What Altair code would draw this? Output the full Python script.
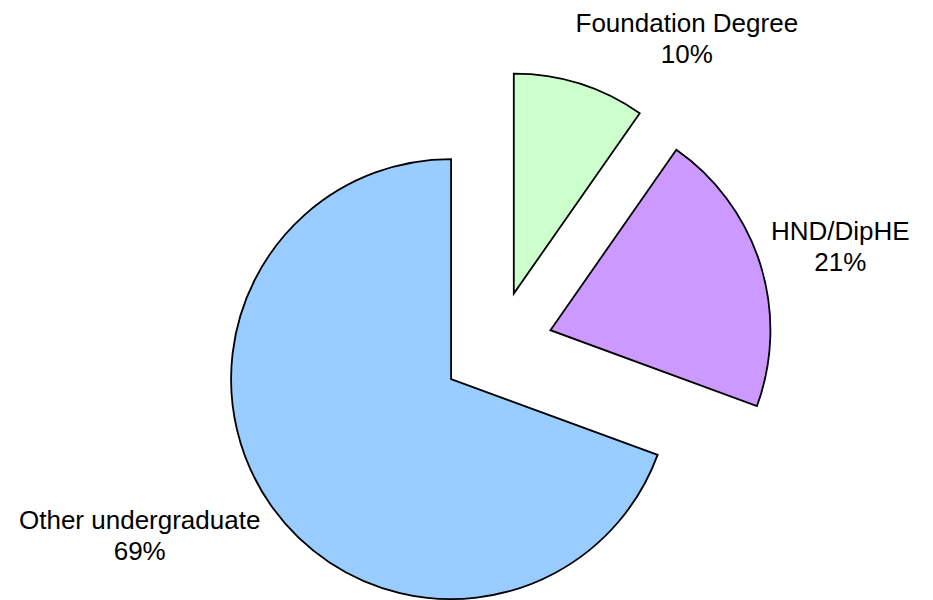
import math
import altair as alt
import pandas as pd

# ---- data ----
categories = ["Foundation Degree", "HND/DipHE", "Other undergraduate"]
values = [9.7, 20.9, 69.4]
colors = ["#CCFFCC", "#CC99FF", "#99CCFF"]

total = sum(values)
starts, ends = [], []
acc = 0.0
for v in values:
    starts.append(acc)
    acc += v
    ends.append(acc)

df = pd.DataFrame({
    "category": categories,
    "value": values,
    "start": starts,
    "end": ends,
    "mid": [(s + e) / 2 for s, e in zip(starts, ends)],
    "label": [f"{c}\n{round(v / total * 100)}%" for c, v in zip(categories, values)],
})

# ---- style ----
R = 220
EXPLODE = 56
FONT = "Liberation Sans"
# label offsets from the slice's outer-edge midpoint
label_style = {
    "Foundation Degree": dict(dx=107, dy=-52),
    "HND/DipHE": dict(dx=80, dy=-24),
    "Other undergraduate": dict(dx=-131, dy=24),
}

theta_scale = alt.Scale(domain=[0, total])
color_scale = alt.Scale(domain=categories, range=colors)

arcs, texts = [], []
for cat, s, e in zip(categories, starts, ends):
    ang = (s + e) / 2 / total * 2 * math.pi
    ox = EXPLODE * math.sin(ang)
    oy = -EXPLODE * math.cos(ang)
    base = alt.Chart(df).transform_filter(alt.datum.category == cat)
    arcs.append(
        base.mark_arc(outerRadius=R, stroke="black", strokeWidth=1.8,
                      xOffset=ox, yOffset=oy).encode(
            theta=alt.Theta("start:Q", scale=theta_scale, stack=None),
            theta2="end:Q",
            color=alt.Color("category:N", scale=color_scale, legend=None),
        )
    )
    texts.append(
        base.mark_text(radius=R, font=FONT, fontSize=26, lineHeight=31,
                       lineBreak="\n", color="black", align="center",
                       baseline="alphabetic",
                       xOffset=ox, yOffset=oy, **label_style[cat]).encode(
            theta=alt.Theta("mid:Q", scale=theta_scale, stack=None),
            text="label:N",
        )
    )

chart = alt.layer(*arcs, *texts).properties(
    width=834,
    height=480,
    padding={"left": 72, "top": 99, "right": 0, "bottom": 13},
    autosize=alt.AutoSizeParams(type="none"),
    background="white",
).configure_view(stroke=None)

chart.save("out.html", embed_options={"renderer": "svg", "actions": False})
